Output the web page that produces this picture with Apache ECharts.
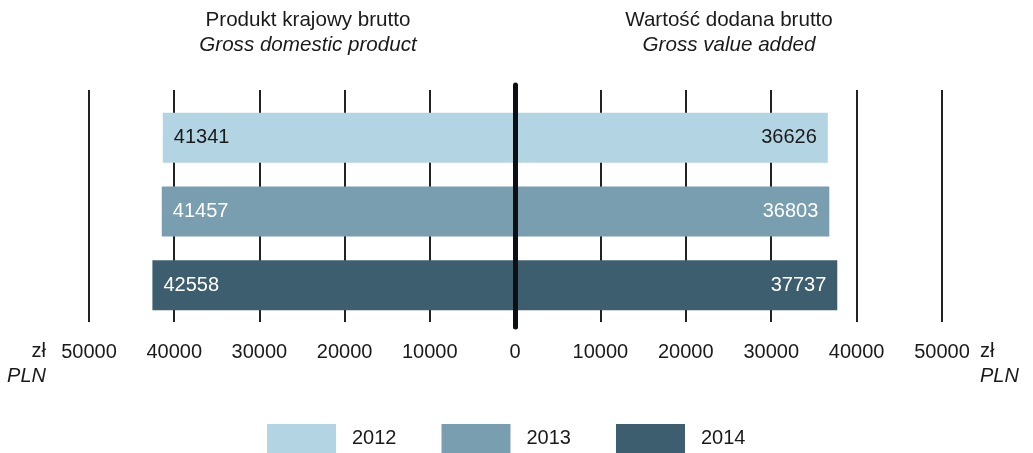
<!DOCTYPE html>
<html>
<head>
<meta charset="utf-8">
<script src="https://cdn.jsdelivr.net/npm/echarts@6/dist/echarts.min.js"></script>
<style>
  html, body { margin: 0; padding: 0; background: #ffffff; }
  #chart { width: 1033px; height: 453px; }
</style>
</head>
<body>
<div id="chart"></div>
<script>
// Years shown as bars, top to bottom
const years = ['2012', '2013', '2014'];
// Gross domestic product per capita (zł)
const gdpValues = [41341, 41457, 42558];
// Gross value added per capita (zł)
const gvaValues = [36626, 36803, 37737];
// Axis range and tick step
const axisMax = 50000;
const axisStep = 10000;

const yearColors = ['#b3d5e3', '#789eb0', '#3d5e6e'];
const labelColors = ['#1a1a1a', '#ffffff', '#ffffff'];
const FONT = "'Liberation Sans', Arial, Helvetica, sans-serif";
const TEXT = '#1a1a1a';

// One series per year on each side; each carries only its own year's value
function sideSeries(values, axisIndex, labelPos) {
  return years.map((year, i) => ({
    name: year,
    type: 'bar',
    xAxisIndex: axisIndex,
    yAxisIndex: axisIndex,
    barWidth: 50,
    barGap: '-100%',
    itemStyle: { color: yearColors[i] },
    label: {
      show: true,
      position: labelPos,
      distance: 11,
      color: labelColors[i],
      fontFamily: FONT,
      fontSize: 20
    },
    data: years.map((_, j) => (j === i ? values[j] : '-'))
  }));
}

const gridLineAxis = (extra) => Object.assign({
  type: 'value',
  min: 0,
  max: axisMax,
  interval: axisStep,
  axisLine: { show: false },
  axisTick: { show: false },
  splitLine: { show: true, lineStyle: { color: '#222222', width: 2 } },
  nameTextStyle: {
    color: TEXT,
    fontFamily: FONT,
    fontSize: 20,
    lineHeight: 25,
    verticalAlign: 'top',
    padding: [17, 0, 0, 0],
    rich: { i: { fontStyle: 'italic', fontFamily: FONT, fontSize: 20, lineHeight: 25, color: TEXT } }
  }
}, extra);

const hiddenValue = { type: 'value', min: 0, max: axisMax, show: false };
const hiddenCat = { type: 'category', data: years, inverse: true, show: false };

const titleText = { fontFamily: FONT, fontSize: 20.6, fontWeight: 'normal', color: TEXT, lineHeight: 24 };
const subText = { fontFamily: FONT, fontSize: 20.6, fontStyle: 'italic', color: TEXT, lineHeight: 24 };

const option = {
  animation: false,
  backgroundColor: '#ffffff',
  title: [
    {
      text: 'Produkt krajowy brutto',
      subtext: 'Gross domestic product',
      left: 308, top: 8, textAlign: 'center', padding: 0, itemGap: 1,
      textStyle: titleText, subtextStyle: subText
    },
    {
      text: 'Wartość dodana brutto',
      subtext: 'Gross value added',
      left: 729, top: 8, textAlign: 'center', padding: 0, itemGap: 1,
      textStyle: titleText, subtextStyle: subText
    }
  ],
  legend: {
    data: years,
    left: 267,
    top: 424,
    padding: 0,
    icon: 'rect',
    itemWidth: 69,
    itemHeight: 29,
    itemGap: 45,
    selectedMode: false,
    textStyle: { fontFamily: FONT, fontSize: 20, color: TEXT, padding: [0, 0, 0, 11] }
  },
  grid: [
    // gridlines and tick labels, left half (GDP)
    { left: 89, width: 426, top: 90, height: 232 },
    // gridlines and tick labels, right half (GVA)
    { left: 515, width: 427, top: 90, height: 232 },
    // bars, left half
    { left: 89, width: 426, top: 101, height: 221 },
    // bars, right half
    { left: 515, width: 427, top: 101, height: 221 },
    // central zero line
    { left: 89, width: 426, top: 85, height: 242 }
  ],
  xAxis: [
    gridLineAxis({
      gridIndex: 0, inverse: true,
      name: 'zł\n{i|PLN}', nameLocation: 'end', nameGap: 43,
      axisLabel: { margin: 20, color: TEXT, fontFamily: FONT, fontSize: 20, formatter: (v) => String(v) }
    }),
    gridLineAxis({
      gridIndex: 1,
      name: 'zł\n{i|PLN}', nameLocation: 'end', nameGap: 38,
      axisLabel: { margin: 20, color: TEXT, fontFamily: FONT, fontSize: 20, formatter: (v) => (v === 0 ? '' : String(v)) }
    }),
    Object.assign({ gridIndex: 2, inverse: true }, hiddenValue),
    Object.assign({ gridIndex: 3 }, hiddenValue),
    Object.assign({ gridIndex: 4 }, hiddenValue)
  ],
  yAxis: [
    Object.assign({ gridIndex: 0 }, hiddenCat),
    Object.assign({ gridIndex: 1 }, hiddenCat),
    Object.assign({ gridIndex: 2 }, hiddenCat),
    Object.assign({ gridIndex: 3 }, hiddenCat),
    {
      gridIndex: 4, type: 'value', position: 'right', z: 10,
      axisLine: { show: true, onZero: false, lineStyle: { color: '#0c0f13', width: 5 } },
      axisTick: { show: false }, axisLabel: { show: false }, splitLine: { show: false }
    }
  ],
  series: [
    ...sideSeries(gdpValues, 2, 'insideLeft'),
    ...sideSeries(gvaValues, 3, 'insideRight')
  ]
};

const chart = echarts.init(document.getElementById('chart'), null, { renderer: 'canvas' });
chart.setOption(option);
</script>
</body>
</html>
